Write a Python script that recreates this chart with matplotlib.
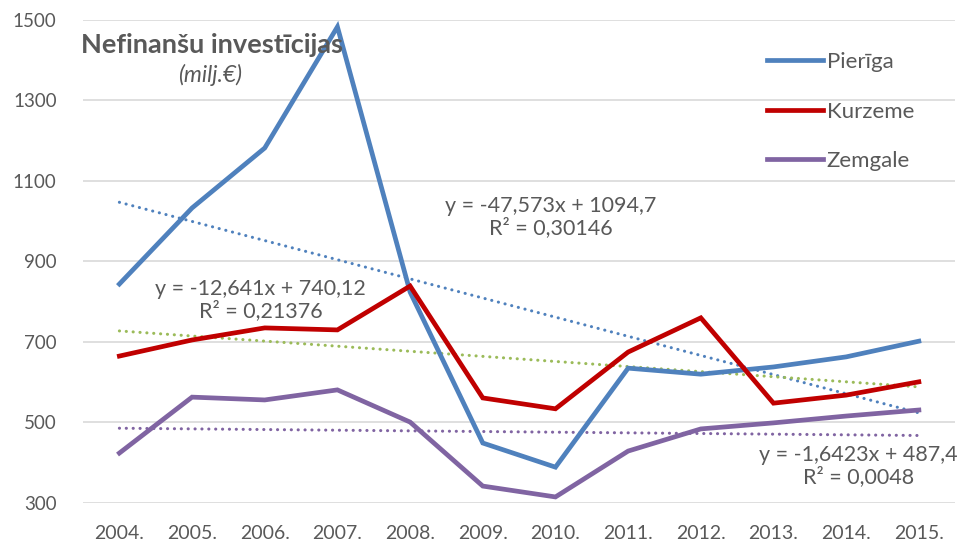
import matplotlib
matplotlib.use("Agg")
from matplotlib import pyplot as plt
import numpy as np

years = ["2004.", "2005.", "2006.", "2007.", "2008.", "2009.", "2010.", "2011.", "2012.", "2013.", "2014.", "2015."]
pieriga = [844, 1033, 1182, 1483, 824, 449, 389, 635, 620, 638, 663, 702]
kurzeme = [665, 705, 735, 730, 839, 561, 534, 675, 760, 548, 568, 601]
zemgale = [424, 563, 556, 581, 501, 342, 315, 429, 484, 499, 516, 531]

# trendline equations as printed on the chart (x = 1..12)
trend_pieriga = (-47.573, 1094.7)
trend_kurzeme = (-12.641, 740.12)
trend_zemgale = (-1.6423, 487.4)

plt.rcParams["font.family"] = ["Lato", "DejaVu Sans"]

blue = "#4F81BD"
red = "#C00000"
purple = "#8064A2"
green = "#9BBB59"
grey_text = "#595959"

fig = plt.figure(figsize=(9.6, 5.45), dpi=100)
ax = fig.add_axes([0.0865, 0.0771, 0.9085, 0.8862])

x = np.arange(len(years))
xt = x + 1

ax.plot(x, pieriga, color=blue, lw=3.4, solid_joinstyle="miter", label="Pierīga", zorder=3)
ax.plot(x, kurzeme, color=red, lw=3.4, solid_joinstyle="miter", label="Kurzeme", zorder=3)
ax.plot(x, zemgale, color=purple, lw=3.4, solid_joinstyle="miter", label="Zemgale", zorder=3)

dot = (0, (0.05, 2.2))
for (k, b), c in [(trend_pieriga, blue), (trend_kurzeme, green), (trend_zemgale, purple)]:
    ax.plot(x, k * xt + b, color=c, lw=2.2, linestyle=dot, dash_capstyle="round", zorder=2)

ax.set_xlim(-0.5, len(years) - 0.5)
ax.set_ylim(300, 1500)
ax.set_yticks(range(300, 1501, 200))
ax.set_xticks(x)
ax.set_xticklabels(years)
ax.tick_params(length=0, labelsize=13.5, colors=grey_text)
ax.tick_params(axis="x", labelsize=14, pad=16)
ax.tick_params(axis="y", pad=19)
ax.grid(axis="y", color="#D9D9D9", lw=1.2)
ax.set_axisbelow(True)
for s in ax.spines.values():
    s.set_visible(False)

ax.text(1.28, 1438, "Nefinanšu investīcijas", fontsize=19.5, fontweight="bold", color=grey_text,
        ha="center", va="center")
ax.text(1.25, 1363, "(milj.€)", fontsize=16.5, fontstyle="italic", color=grey_text, ha="center", va="center")

eq_size = 15.5
ax.text(5.94, 1010, "y = -47,573x + 1094,7\nR² = 0,30146", fontsize=eq_size, color=grey_text,
        ha="center", va="center", linespacing=1.05)
ax.text(1.94, 805, "y = -12,641x + 740,12\nR² = 0,21376", fontsize=eq_size, color=grey_text,
        ha="center", va="center", linespacing=1.05)
ax.text(10.17, 392, "y = -1,6423x + 487,4\nR² = 0,0048", fontsize=eq_size, color=grey_text,
        ha="center", va="center", linespacing=1.05)

leg = ax.legend(loc="upper left", bbox_to_anchor=(0.761, 0.975), frameon=False, fontsize=16,
                handlelength=2.55, handletextpad=0.15, labelspacing=1.33)
for t in leg.get_texts():
    t.set_color(grey_text)

fig.savefig("out.png", dpi=100)
